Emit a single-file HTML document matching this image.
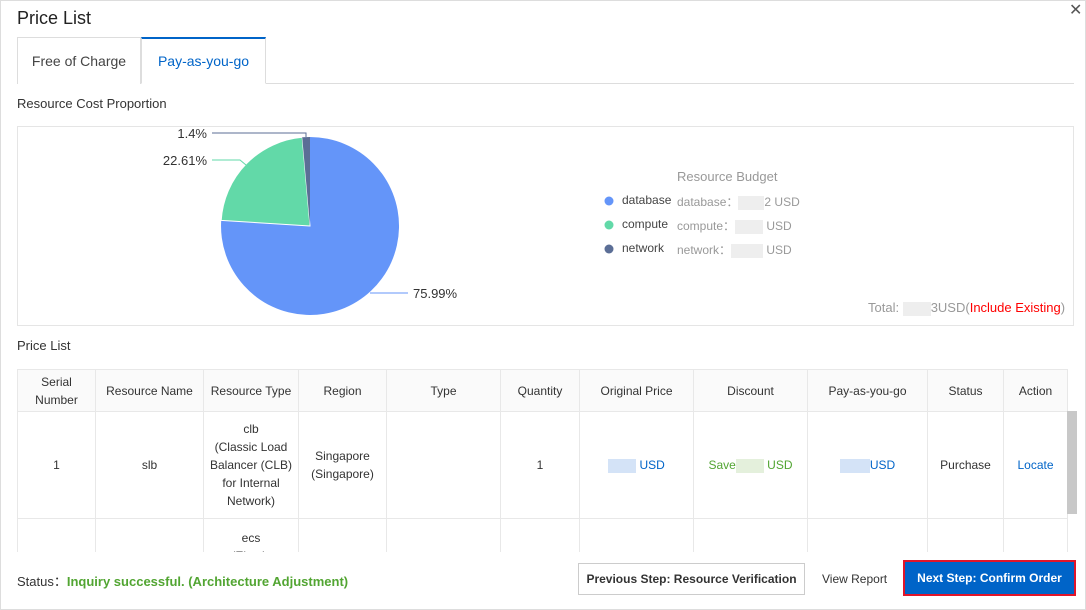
<!DOCTYPE html>
<html><head><meta charset="utf-8"><style>
*{box-sizing:border-box;margin:0;padding:0}
body{width:1086px;height:610px;background:#fff;font-family:"Liberation Sans","Noto Sans CJK SC",sans-serif;color:#333;position:relative;overflow:hidden}
.frame{position:absolute;left:0;top:0;width:1086px;height:610px;border:1px solid #ddd}
.a{position:absolute;white-space:nowrap}
table{position:absolute;left:17px;top:369px;border-collapse:collapse;font-size:12px;color:#333;table-layout:fixed}
td,th{border:1px solid #e8e8e8;text-align:center;font-weight:normal;line-height:18px;vertical-align:middle}
th{background:#fafafa;height:42px}
.blur{display:inline-block;background:#d4e3f7;height:14px;vertical-align:middle}
</style></head><body>
<div class="frame"></div>
<div class="a" style="left:17px;top:8px;font-size:18px;color:#222">Price List</div>
<div class="a" style="left:1069px;top:0px;font-size:16px;color:#555">✕</div>
<div class="a" style="left:17px;top:83px;width:1057px;border-top:1px solid #ddd"></div>
<div class="a" style="left:17px;top:37px;width:124px;height:47px;border:1px solid #ddd;border-bottom:none;background:#fff;font-size:14px;color:#444;text-align:center;line-height:46px">Free of Charge</div>
<div class="a" style="left:141px;top:37px;width:125px;height:47px;border:1px solid #ddd;border-top:2px solid #0064c8;border-bottom:1px solid #fff;background:#fff;font-size:14px;color:#0064c8;text-align:center;line-height:44px">Pay-as-you-go</div>
<div class="a" style="left:17px;top:96px;font-size:13px;color:#333">Resource Cost Proportion</div>
<div class="a" style="left:17px;top:126px;width:1057px;height:200px;border:1px solid #e5e5e5"></div>
<svg class="a" style="left:0;top:0" width="1086" height="330">
<path d="M310 226 L310 137 A89 89 0 1 1 221.2 220.4 Z" fill="#6495f9"/>
<path d="M310 226 L221.2 220.4 A89 89 0 0 1 302.2 137.3 Z" fill="#62d9a8" stroke="#fff" stroke-width="1"/>
<path d="M310 226 L302.2 137.3 A89 89 0 0 1 310 137 Z" fill="#5b6e96"/>
<polyline points="212,133 306,133 306,137" fill="none" stroke="#5b6e96"/>
<polyline points="212,160 240,160 246,165" fill="none" stroke="#62d9a8"/>
<polyline points="370,293 378,293 408,293" fill="none" stroke="#6495f9"/>
<text x="207" y="138" font-size="13" text-anchor="end" fill="#333" font-family="Liberation Sans">1.4%</text>
<text x="207" y="165" font-size="13" text-anchor="end" fill="#333" font-family="Liberation Sans">22.61%</text>
<text x="413" y="298" font-size="13" fill="#333" font-family="Liberation Sans">75.99%</text>
<circle cx="609" cy="201" r="4.5" fill="#6495f9"/>
<circle cx="609" cy="225" r="4.5" fill="#62d9a8"/>
<circle cx="609" cy="249" r="4.5" fill="#5b6e96"/>
</svg>
<div class="a" style="left:677px;top:169px;font-size:13px;color:#999">Resource Budget</div>
<div class="a" style="left:622px;top:193px;font-size:12px;color:#444">database</div>
<div class="a" style="left:622px;top:217px;font-size:12px;color:#444">compute</div>
<div class="a" style="left:622px;top:241px;font-size:12px;color:#444">network</div>
<div class="a" style="left:677px;top:193px;font-size:12px;color:#999">database：<span class="blur" style="width:26px;background:#eee"></span>2 USD</div>
<div class="a" style="left:677px;top:217px;font-size:12px;color:#999">compute：<span class="blur" style="width:28px;background:#eee"></span> USD</div>
<div class="a" style="left:677px;top:241px;font-size:12px;color:#999">network：<span class="blur" style="width:32px;background:#eee"></span> USD</div>
<div class="a" style="left:868px;top:300px;font-size:13px;color:#999">Total: <span class="blur" style="width:28px;background:#eee"></span>3USD(<span style="color:#f00">Include Existing</span>)</div>
<div class="a" style="left:17px;top:338px;font-size:13px;color:#333">Price List</div>
<table>
<colgroup><col style="width:78px"><col style="width:108px"><col style="width:95px"><col style="width:88px"><col style="width:114px"><col style="width:79px"><col style="width:114px"><col style="width:114px"><col style="width:120px"><col style="width:76px"><col style="width:64px"></colgroup>
<tr><th>Serial<br>Number</th><th>Resource Name</th><th>Resource Type</th><th>Region</th><th>Type</th><th>Quantity</th><th>Original Price</th><th>Discount</th><th>Pay-as-you-go</th><th>Status</th><th>Action</th></tr>
<tr style="height:107px"><td>1</td><td>slb</td><td>clb<br>(Classic Load<br>Balancer (CLB)<br>for Internal<br>Network)</td><td>Singapore<br>(Singapore)</td><td></td><td>1</td><td style="color:#0064c8"><span class="blur" style="width:28px"></span> USD</td><td style="color:#52a532">Save<span class="blur" style="width:28px;background:#e4f0dc"></span> USD</td><td style="color:#0064c8"><span class="blur" style="width:30px"></span>USD</td><td>Purchase</td><td style="color:#0064c8">Locate</td></tr>
<tr style="height:60px"><td></td><td></td><td style="vertical-align:top;padding-top:10px">ecs<br>(Elastic</td><td></td><td></td><td></td><td></td><td></td><td></td><td></td><td></td></tr>
</table>
<div class="a" style="left:1067px;top:411px;width:10px;height:103px;background:#c8c8c8"></div>
<div class="a" style="left:0;top:552px;width:1086px;height:58px;background:#fff;border:1px solid #ddd;border-top:none"></div>
<div class="a" style="left:17px;top:571px;font-size:13px;color:#333">Status：<span style="color:#52a532;font-weight:bold">Inquiry successful. (Architecture Adjustment)</span></div>
<div class="a" style="left:578px;top:563px;width:227px;height:32px;border:1px solid #ccc;font-size:12px;color:#333;text-align:center;line-height:30px;font-weight:bold">Previous Step: Resource Verification</div>
<div class="a" style="left:822px;top:572px;font-size:12px;color:#333">View Report</div>
<div class="a" style="left:903px;top:560px;width:173px;height:36px;border:2px solid #e0152a;background:#0064c8;font-size:12px;color:#fff;text-align:center;line-height:32px;font-weight:bold">Next Step: Confirm Order</div>
</body></html>
